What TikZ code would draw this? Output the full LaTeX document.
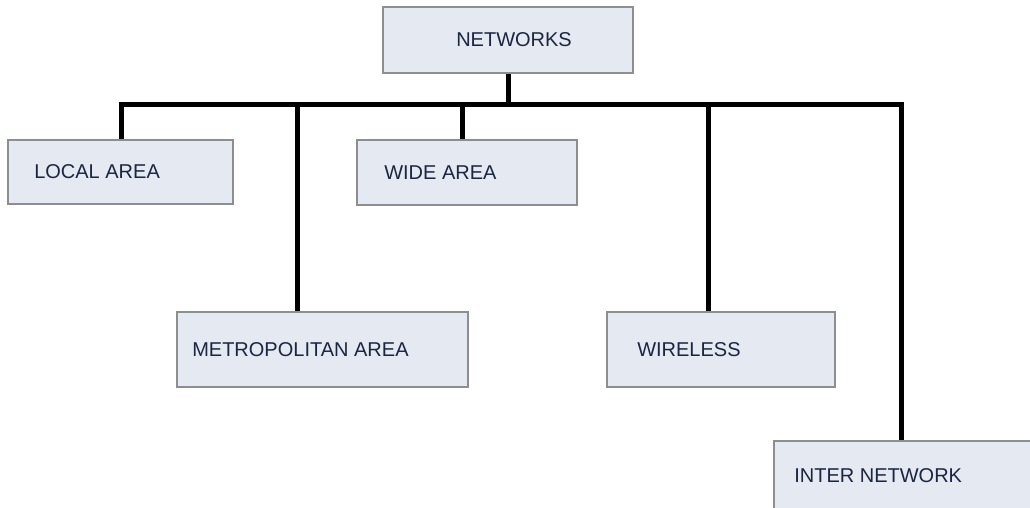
\documentclass[tikz,border=0pt]{standalone}
\usepackage{fontspec}
\setmainfont{Liberation Sans}
\definecolor{boxfill}{HTML}{E4E9F2}
\definecolor{boxline}{HTML}{8E8E8E}
\definecolor{txt}{HTML}{1E2540}
\begin{document}
\begin{tikzpicture}[x=0.75pt,y=-0.75pt,
  box/.style={draw=boxline, line width=1.5pt, fill=boxfill, rectangle, inner sep=0pt},
  every label/.style={inner sep=0pt, text=txt, font=\fontsize{15}{18}\selectfont},
  conn/.style={line width=3.75pt, black, line join=miter}]
\clip (0,0) rectangle (1030,507);
\fill[white] (0,0) rectangle (1030,507);

\node[box, minimum width=187.5pt, minimum height=49.5pt,
  label={[anchor=west, xshift=55.5pt]west:NETWORKS}] (net) at (508,40) {};
\node[box, minimum width=168.75pt, minimum height=48pt,
  label={[anchor=west, xshift=20.25pt]west:LOCAL AREA}] (local) at (120.5,172) {};
\node[box, minimum width=165pt, minimum height=48.75pt,
  label={[anchor=west, xshift=21pt]west:WIDE AREA}] (wide) at (467,172.5) {};
\node[box, minimum width=218.25pt, minimum height=56.25pt,
  label={[anchor=west, xshift=12pt]west:METROPOLITAN AREA}] (metro) at (322.5,349.5) {};
\node[box, minimum width=171pt, minimum height=56.25pt,
  label={[anchor=west, xshift=23.25pt]west:WIRELESS}] (wireless) at (721,349.5) {};
\node[box, minimum width=202.5pt, minimum height=52.5pt,
  label={[anchor=west, xshift=15.75pt]west:INTER NETWORK}] (inter) at (909,476) {};

\coordinate (bnet) at (508,104.5);
\coordinate (b1) at (121.5,104.5);
\coordinate (b2) at (297.5,104.5);
\coordinate (b3) at (462,104.5);
\coordinate (b4) at (708,104.5);
\coordinate (b5) at (901,104.5);

\draw[conn] (net.south) -- (net.south |- bnet);
\draw[conn] (b1 |- local.north) -- (b1) -- (b5) -- (b5 |- inter.north);
\draw[conn] (b2) -- (b2 |- metro.north);
\draw[conn] (b3) -- (b3 |- wide.north);
\draw[conn] (b4) -- (b4 |- wireless.north);
\end{tikzpicture}
\end{document}
